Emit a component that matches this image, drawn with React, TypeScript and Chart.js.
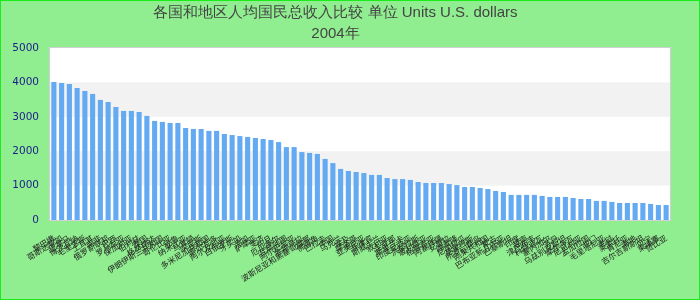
import React, { useEffect, useRef } from "react";
import { Chart, registerables } from "chart.js";

Chart.register(...registerables);

const titleLines = ["各国和地区人均国民总收入比较 单位 Units U.S. dollars", "2004年"];

const categories = [
  "黎巴嫩", "哥斯达黎加", "巴拿马", "博茨瓦纳", "毛里求斯", "土耳其", "南非", "俄罗斯联邦", "巴西", "罗马尼亚",
  "保加利亚", "伯利兹", "泰国", "格林纳达", "伊朗伊斯兰共和国", "哥伦比亚", "秘鲁", "纳米比亚", "马其顿", "突尼斯",
  "多米尼加共和国", "萨尔瓦多", "阿尔及利亚", "白俄罗斯", "牙买加", "汤加", "萨摩亚", "斐济", "约旦", "厄瓜多尔",
  "瓦努阿图", "阿尔巴尼亚", "危地马拉", "波斯尼亚和黑塞哥维那", "佛得角", "巴拉圭", "中国", "乌克兰", "埃及", "摩洛哥",
  "亚美尼亚", "菲律宾", "斯威士兰", "叙利亚", "圭亚那", "斯里兰卡", "印度尼西亚", "洪都拉斯", "玻利维亚", "格鲁吉亚",
  "阿塞拜疆", "安哥拉", "喀麦隆", "尼加拉瓜", "基里巴斯", "所罗门群岛", "刚果共和国", "蒙古", "巴布亚新几内亚", "巴基斯坦",
  "印度", "越南", "津巴布韦", "科特迪瓦", "塞内加尔", "苏丹", "乌兹别克斯坦", "摩尔多瓦", "尼日利亚", "孟加拉国",
  "也门", "毛里塔尼亚", "老挝", "莱索托", "肯尼亚", "海地", "吉尔吉斯斯坦", "贝宁", "柬埔寨", "赞比亚",
];

const values = [
  4010, 3985, 3955, 3840, 3750, 3665, 3490, 3430, 3285, 3170,
  3170, 3140, 3025, 2880, 2850, 2820, 2820, 2675, 2645, 2645,
  2590, 2590, 2500, 2470, 2440, 2415, 2385, 2355, 2325, 2265,
  2120, 2120, 1975, 1950, 1920, 1775, 1655, 1485, 1425, 1395,
  1365, 1310, 1310, 1220, 1190, 1190, 1165, 1105, 1075, 1075,
  1075, 1045, 1015, 960, 960, 930, 900, 845, 815, 730,
  730, 730, 730, 700, 670, 670, 670, 640, 610, 610,
  555, 555, 525, 495, 495, 495, 495, 465, 435, 435,
];

const yMin = 0;
const yMax = 5000;
const yStep = 1000;
const bandRanges = [
  [1000, 2000],
  [3000, 4000],
];

const bandPlugin = {
  id: "bands",
  beforeDraw(chart: any) {
    const { ctx, chartArea } = chart;
    const y = chart.scales.y;
    ctx.save();
    ctx.fillStyle = "#ffffff";
    ctx.fillRect(chartArea.left, chartArea.top, chartArea.right - chartArea.left, chartArea.bottom - chartArea.top);
    ctx.fillStyle = "#f2f2f2";
    for (const [a, b] of bandRanges) {
      const y1 = y.getPixelForValue(b);
      const y2 = y.getPixelForValue(a);
      ctx.fillRect(chartArea.left, y1, chartArea.right - chartArea.left, y2 - y1);
    }
    ctx.restore();
  },
  afterDraw(chart: any) {
    const { ctx, chartArea } = chart;
    ctx.save();
    ctx.strokeStyle = "#d0d0d0";
    ctx.lineWidth = 1;
    ctx.strokeRect(chartArea.left - 0.5, chartArea.top - 0.5, chartArea.right - chartArea.left + 1, chartArea.bottom - chartArea.top + 1);
    ctx.restore();
  },
};

export default function App() {
  const ref = useRef<HTMLCanvasElement>(null);
  useEffect(() => {
    document.body.style.margin = "0";
    const chart = new Chart(ref.current!, {
      type: "bar",
      data: {
        labels: categories,
        datasets: [
          {
            data: values,
            backgroundColor: "#63aaf2",
            borderWidth: 0,
            categoryPercentage: 1,
            barPercentage: 0.66,
          },
        ],
      },
      options: {
        animation: false,
        responsive: false,
        layout: { padding: { left: 0, right: 29, top: 0, bottom: 0 } },
        plugins: {
          legend: { display: false },
          tooltip: { enabled: false },
          title: {
            display: true,
            text: titleLines,
            color: "#444444",
            font: { family: "'Liberation Sans', Arial, sans-serif", size: 15, weight: "normal", lineHeight: "21px" },
            padding: { top: 1, bottom: 4 },
          },
        },
        scales: {
          x: {
            grid: { display: false, drawTicks: false },
            border: { display: false },
            ticks: {
              autoSkip: false,
              maxRotation: 32,
              minRotation: 32,
              color: "#222222",
              padding: 13,
              font: { family: "'Noto Sans CJK SC', sans-serif", size: 8 },
            },
            afterFit: (s: any) => {
              s.height = 79;
            },
          },
          y: {
            min: yMin,
            max: yMax,
            grid: { display: false, drawTicks: false },
            border: { display: false },
            ticks: {
              stepSize: yStep,
              color: "#1c1c8c",
              padding: 11,
              font: { family: "'DejaVu Sans', sans-serif", size: 10.5 },
              callback: (v: any) => String(v),
            },
            afterFit: (s: any) => {
              s.width = 49;
            },
          },
        },
      },
      plugins: [bandPlugin],
    });
    return () => chart.destroy();
  }, []);
  return (
    <div
      style={{
        width: 700,
        height: 300,
        boxSizing: "border-box",
        border: "1px solid #1aec1a",
        background: "#90ee90",
      }}
    >
      <canvas ref={ref} width={698} height={298} style={{ display: "block" }} />
    </div>
  );
}
